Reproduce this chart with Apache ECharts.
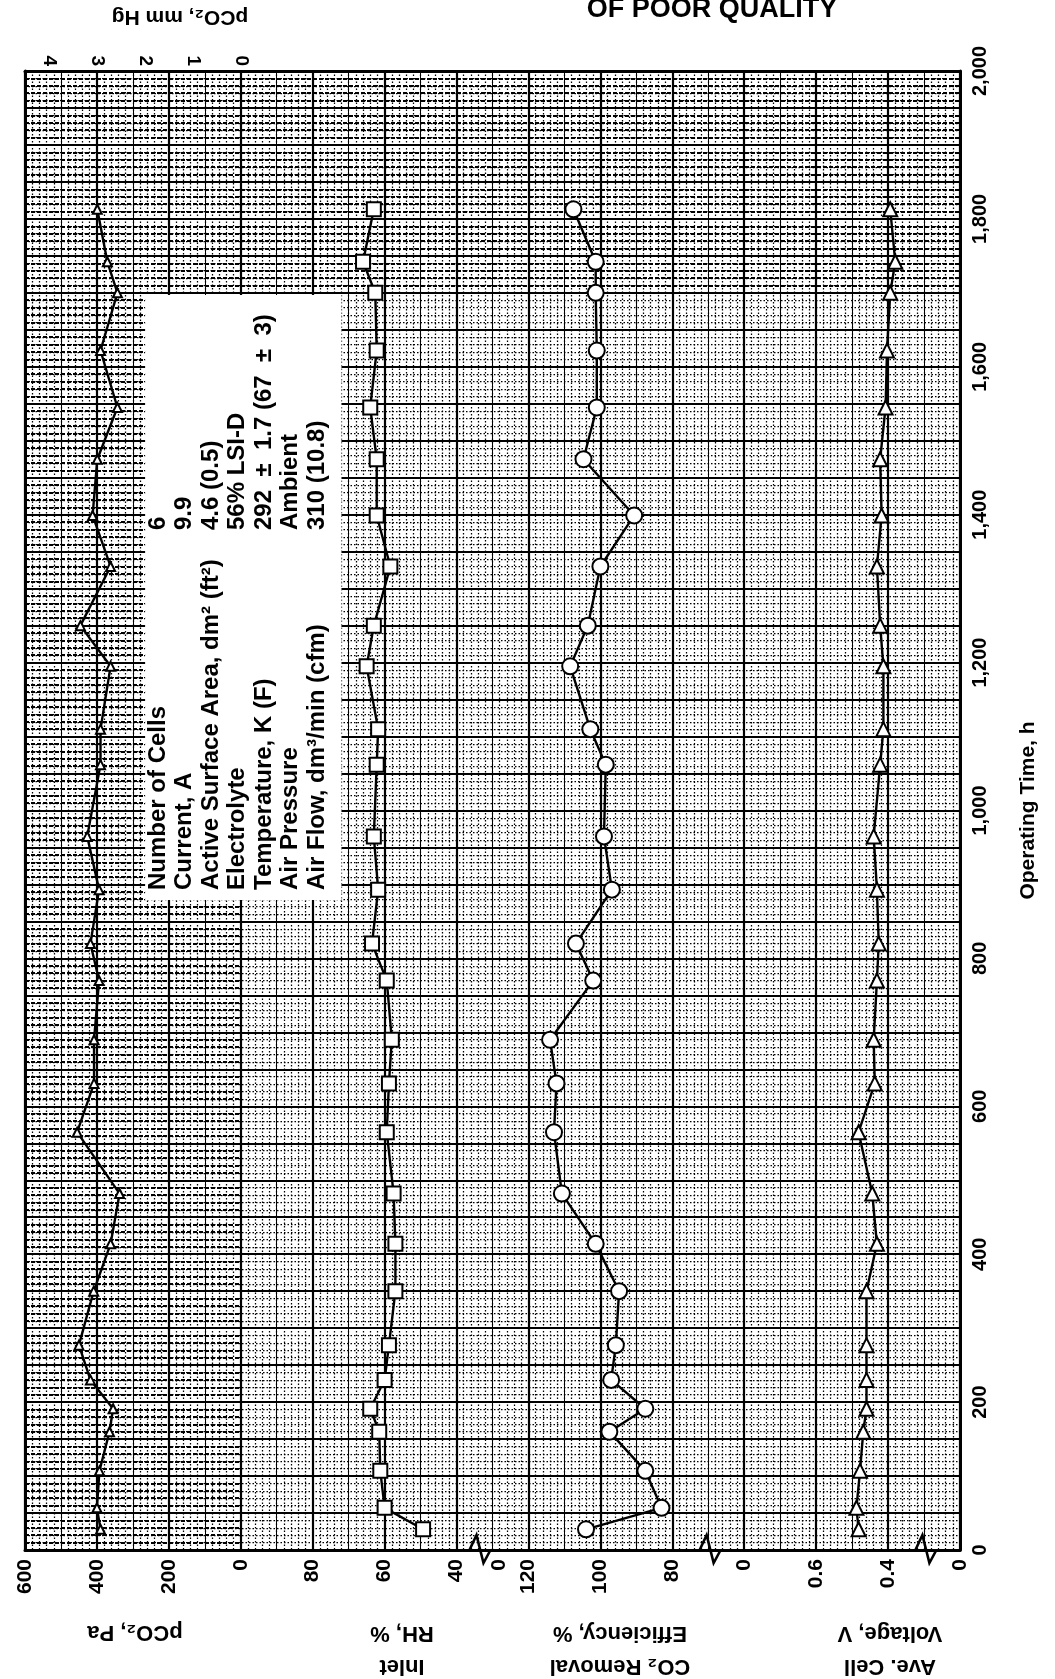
<!DOCTYPE html>
<html>
<head>
<meta charset="utf-8">
<script src="https://cdn.jsdelivr.net/npm/echarts@6/dist/echarts.min.js"></script>
<style>html,body{margin:0;padding:0;background:#fff}#c{width:1055px;height:1679px}</style>
</head>
<body>
<div id="c"></div>
<script>
// ---------------- data ----------------
const TIME_H = [28, 57, 107, 160, 191, 230, 277, 350, 414, 482, 565, 631, 690, 770, 820, 893, 965, 1062, 1110, 1195, 1250, 1330, 1399, 1475, 1545, 1622, 1700, 1742, 1813];
const PCO2_PA = [390, 400, 393, 365, 355, 418, 450, 409, 362, 337, 455, 408, 408, 394, 418, 394, 427, 390, 390, 362, 446, 362, 412, 399, 343, 390, 343, 371, 399];
const RH_PCT = [49.3, 60, 61.2, 61.5, 64, 60, 58.8, 57, 57, 57.5, 59.4, 58.8, 58, 59.4, 63.5, 61.8, 63, 62.2, 61.8, 65, 63, 58.4, 62.2, 62.2, 64, 62.2, 62.6, 66, 63];
const CO2_EFF = [104, 83, 87.5, 97.5, 87.5, 97, 95.7, 94.8, 101.3, 110.7, 112.9, 112.2, 114, 102, 106.8, 96.8, 99, 98.5, 102.8, 108.4, 103.5, 100, 90.6, 104.7, 101, 101, 101.3, 101.3, 107.5];
const CELL_V = [0.482, 0.488, 0.478, 0.469, 0.46, 0.46, 0.46, 0.46, 0.431, 0.444, 0.482, 0.437, 0.44, 0.431, 0.426, 0.431, 0.44, 0.422, 0.413, 0.413, 0.422, 0.431, 0.418, 0.422, 0.407, 0.403, 0.394, 0.38, 0.394];

const PCO2_TICKS = [600, 400, 200, 0];
const RH_TICKS = [80, 60, 40];
const CO2_TICKS = [120, 100, 80];
const V_TICKS = [0.6, 0.4];
const MMHG_TICKS = [4, 3, 2, 1, 0];

const INFO_LABELS = ['Number of Cells', 'Current, A', 'Active Surface Area, dm² (ft²)', 'Electrolyte', 'Temperature, K (F)', 'Air Pressure', 'Air Flow, dm³/min (cfm)'];
const INFO_VALUES = ['6', '9.9', '4.6 (0.5)', '56% LSI-D', '292  ±  1.7 (67  ±  3)', 'Ambient', '310 (10.8)'];

// ---------------- chart ----------------
const FONT = '"Liberation Sans", Arial, sans-serif';
const chart = echarts.init(document.getElementById('c'));
const lab = { fontFamily: FONT, fontWeight: 'bold', color: '#000' };

// broken-axis "0" labels: printed at these axis positions
const RH_BREAK = 28, CO2_BREAK = 60, V_BREAK = 0.2;

function valAxis(min, max, ticks, breakAt) {
  const vals = ticks.slice();
  if (breakAt !== null) vals.push(breakAt);
  return {
    type: 'value', gridIndex: 0, position: 'bottom', min, max, inverse: true,
    axisLine: { show: false, onZero: false }, axisTick: { show: false }, splitLine: { show: false },
    axisLabel: Object.assign({
      customValues: vals, rotate: 90, margin: 9, fontSize: 21,
      formatter: v => (breakAt !== null && Math.abs(v - breakAt) < 1e-9) ? '0' : String(+v.toFixed(2))
    }, lab)
  };
}

function lineSeries(name, xi, vals, symbol, size) {
  return {
    type: 'line', name, xAxisIndex: xi, yAxisIndex: 0,
    data: TIME_H.map((t, i) => [vals[i], t]),
    symbol, symbolSize: size, showAllSymbol: true, animation: false, z: 5,
    lineStyle: { color: '#000', width: 2.4 },
    itemStyle: { color: '#fff', borderColor: '#000', borderWidth: 2 }
  };
}

const fmtTime = v => v >= 1000 ? Math.floor(v / 1000) + ',' + String(v % 1000).padStart(3, '0') : String(v);
const minorDot = { show: true, lineStyle: { color: '#000', width: 1.25, type: [1.5, 2.0] } };
const minorDash = { show: true, lineStyle: { color: '#000', width: 1.8, type: [4, 2] } };
const hidden = { axisLine: { show: false, onZero: false }, axisTick: { show: false }, axisLabel: { show: false }, splitLine: { show: false } };

const option = {
  backgroundColor: '#fff',
  animation: false,
  grid: [
    { left: 25, right: 95, top: 71, bottom: 129 },
    { left: 25, right: 814, top: 71, bottom: 129 },
    { left: 25, right: 95, top: 71, bottom: 1386 }
  ],
  xAxis: [
    { // 0: paper columns
      type: 'value', gridIndex: 0, position: 'bottom', min: 0, max: 13, interval: 1,
      axisLine: { show: true, onZero: false, lineStyle: { color: '#000', width: 3 } },
      axisTick: { show: false }, axisLabel: { show: false },
      splitLine: { show: true, lineStyle: { color: '#000', width: 2.2 } },
      minorTick: { show: true, splitNumber: 10, length: 0 },
      minorSplitLine: minorDot
    },
    { // 1: half columns
      type: 'value', gridIndex: 0, position: 'bottom', min: 0, max: 13, interval: 0.5,
      axisLine: { show: false, onZero: false }, axisTick: { show: false }, axisLabel: { show: false },
      splitLine: { show: true, lineStyle: { color: '#000', width: 1 } }
    },
    valAxis(-2000, 600, PCO2_TICKS, null), // 2
    valAxis(-100, 160, RH_TICKS, RH_BREAK), // 3
    valAxis(0, 260, CO2_TICKS, CO2_BREAK), // 4
    valAxis(0.2, 2.8, V_TICKS, V_BREAK), // 5
    { // 6: mm Hg on top
      type: 'value', gridIndex: 0, position: 'top', min: -15, max: 4.5, inverse: true,
      axisLine: { show: true, onZero: false, lineStyle: { color: '#000', width: 3 } },
      axisTick: { show: false }, splitLine: { show: false },
      axisLabel: Object.assign({ customValues: MMHG_TICKS, rotate: 90, margin: 5, fontSize: 19 }, lab)
    },
    Object.assign({ type: 'value', gridIndex: 1, position: 'bottom', min: 0, max: 3 }, hidden), // 7
    Object.assign({ type: 'value', gridIndex: 2, position: 'bottom', min: 0, max: 13 }, hidden)  // 8
  ],
  yAxis: [
    { // 0: time labels
      type: 'value', gridIndex: 0, position: 'right', min: 0, max: 2000, interval: 200,
      axisLine: { show: true, onZero: false, lineStyle: { color: '#000', width: 3 } },
      axisTick: { show: false }, splitLine: { show: false },
      axisLabel: Object.assign({ rotate: 90, margin: 10, fontSize: 20, formatter: fmtTime }, lab),
      name: 'Operating Time, h', nameLocation: 'middle', nameRotate: 90, nameGap: 58,
      nameTextStyle: { fontFamily: FONT, fontWeight: 'bold', fontSize: 21, color: '#000' }
    },
    { // 1: time grid
      type: 'value', gridIndex: 0, position: 'left', min: 0, max: 2000, interval: 50,
      axisLine: { show: true, onZero: false, lineStyle: { color: '#000', width: 3 } },
      axisTick: { show: false }, axisLabel: { show: false },
      splitLine: { show: true, lineStyle: { color: '#000', width: 2.2 } },
      minorTick: { show: true, splitNumber: 5, length: 0 },
      minorSplitLine: minorDot
    },
    Object.assign({ // 2: darker pCO2 zone
      type: 'value', gridIndex: 1, position: 'left', min: 0, max: 2000, interval: 50,
      minorTick: { show: true, splitNumber: 5, length: 0 }
    }, hidden),
    Object.assign({ // 3: darker top band
      type: 'value', gridIndex: 2, position: 'left', min: 1700, max: 2000, interval: 50,
      minorTick: { show: true, splitNumber: 5, length: 0 }
    }, hidden)
  ],
  series: [
    lineSeries('pCO2', 2, PCO2_PA, 'triangle', 9),
    lineSeries('RH', 3, RH_PCT, 'rect', 14),
    lineSeries('CO2 removal', 4, CO2_EFF, 'circle', 16),
    lineSeries('Cell voltage', 5, CELL_V, 'triangle', 14),
    { type: 'line', xAxisIndex: 7, yAxisIndex: 2, data: [], silent: true },
    { type: 'line', xAxisIndex: 8, yAxisIndex: 3, data: [], silent: true }
  ]
};
option.yAxis[2].minorSplitLine = minorDash;
option.yAxis[3].minorSplitLine = minorDash;
chart.setOption(option);

// ---------------- decorations ----------------
const px = c => chart.convertToPixel({ xAxisIndex: 0 }, c);
const axisY = chart.convertToPixel({ yAxisIndex: 1 }, 0);

function txt(text, x, y, size, rot, align, weight, lh) {
  return {
    type: 'text', x, y, rotation: rot, z: 20,
    style: { text, fill: '#000', fontFamily: FONT, fontWeight: weight || 'bold', fontSize: size,
      textAlign: align, align: align, textVerticalAlign: 'middle', verticalAlign: 'middle', lineHeight: lh || size * 1.3 }
  };
}
function zig(c) {
  const x = px(c), y = axisY;
  return { type: 'polyline', z: 20, shape: { points: [[x, y], [x + 7, y - 15], [x + 14, y + 13], [x + 21, y]] },
    style: { stroke: '#000', lineWidth: 2.6, fill: null } };
}

const boxLeft = px(1.67), boxRight = px(4.4);
const gfx = [
  { type: 'rect', z: 15, shape: { x: boxLeft, y: 295, width: boxRight - boxLeft, height: 605 }, style: { fill: '#fff' } },
  txt('OF POOR QUALITY', 712, 10, 27, 0, 'center'),
  txt('pCO₂, mm Hg', 180, 17, 21, Math.PI, 'center'),
  txt('pCO₂, Pa', 135, 1632, 22, Math.PI, 'center'),
  txt('Inlet\nRH, %', 402, 1650, 22, Math.PI, 'center', 'bold', 33),
  txt('CO₂ Removal\nEfficiency, %', 620, 1650, 22, Math.PI, 'center', 'bold', 33),
  txt('Ave. Cell\nVoltage, V', 890, 1650, 22, Math.PI, 'center', 'bold', 33),
  zig(6.18), zig(9.38), zig(12.38)
];
INFO_LABELS.forEach((s, i) => {
  const x = 158 + 26.5 * i;
  gfx.push(txt(s, x, 890, 24, Math.PI / 2, 'left', 'bold'));
  gfx.push(txt(INFO_VALUES[i], x, 530, 24, Math.PI / 2, 'left', 'bold'));
});
chart.setOption({ graphic: { elements: gfx } });
</script>
</body>
</html>
